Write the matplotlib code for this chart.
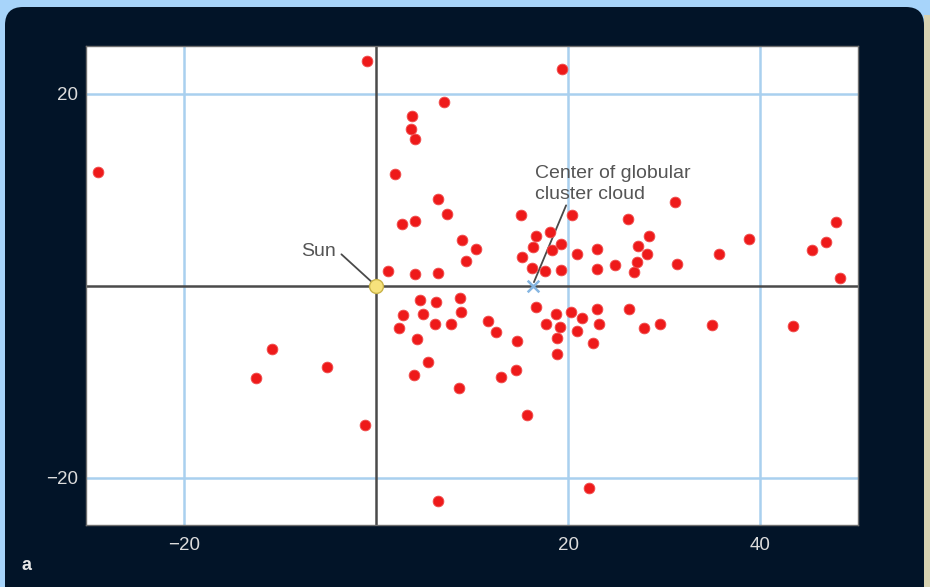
import matplotlib.pyplot as plt
from matplotlib.patches import FancyBboxPatch, Rectangle
from matplotlib.transforms import IdentityTransform

plt.rcParams['font.family'] = ['Liberation Sans', 'DejaVu Sans']

# globular cluster positions in the plane (kpc), Sun at the origin
cluster_x = [-28.9, -12.5, -10.8, -5.1, -1.1, -0.9, 1.3, 2.0, 2.7, 3.6,
             3.75, 4.1, 4.1, 4.1, 6.5, 6.5, 7.05, 7.4, 9.0, 9.4,
             10.4, 15.1, 15.2, 16.3, 16.4, 16.7, 17.6, 18.1, 18.3, 19.3,
             19.3, 19.4, 20.4, 20.9, 23.0, 23.0, 24.9, 26.25, 26.9, 27.2,
             27.3, 28.2, 28.4, 31.1, 31.3, 35.7, 38.85, 45.4, 46.9, 47.9,
             48.3, 4.6, 6.3, 8.7, 8.85, 2.8, 4.9, 2.4, 6.15, 7.8,
             4.3, 5.45, 4.0, 8.6, 11.7, 12.5, 14.7, 13.0, 14.6, 15.7,
             16.7, 18.7, 20.3, 21.5, 23.05, 17.7, 19.2, 20.9, 23.25, 18.85,
             22.6, 18.85, 26.3, 27.9, 29.55, 35.0, 43.4, 6.5, 22.2]
cluster_y = [11.9, -9.6, -6.6, -8.4, -14.5, 23.4, 1.6, 11.7, 6.5, 16.4,
             17.7, 15.3, 6.8, 1.25, 9.1, 1.35, 19.2, 7.5, 4.8, 2.6,
             3.9, 7.4, 3.0, 1.9, 4.1, 5.2, 1.6, 5.6, 3.75, 4.4,
             1.7, 22.6, 7.4, 3.3, 3.9, 1.75, 2.15, 7.0, 1.45, 2.5,
             4.2, 3.3, 5.2, 8.7, 2.3, 3.3, 4.9, 3.7, 4.55, 6.7,
             0.85, -1.5, -1.7, -1.3, -2.7, -3.05, -2.9, -4.35, -4.0, -3.95,
             -5.55, -7.95, -9.3, -10.65, -3.7, -4.8, -5.7, -9.5, -8.8, -13.4,
             -2.2, -2.95, -2.75, -3.35, -2.4, -4.0, -4.25, -4.7, -3.95, -5.45,
             -5.9, -7.1, -2.4, -4.4, -4.0, -4.1, -4.2, -22.4, -21.0]

sun_x, sun_y = 0.0, 0.0
center_x, center_y = 16.4, 0.0

x_ticks = [-20, 20, 40]
y_ticks = [-20, 20]

fig = plt.figure(figsize=(9.3, 5.87), dpi=100)
fig.patch.set_facecolor('#a7d4fa')

# dark rounded panel behind the plot (pixel coordinates)
panel = FancyBboxPatch((5, -40), 919, 620, boxstyle='round,pad=0,rounding_size=18',
                       transform=IdentityTransform(), facecolor='#021428',
                       edgecolor='none', zorder=-5)
fig.patches.append(panel)
fig.patches.append(Rectangle((924, 0), 6, 572, transform=IdentityTransform(),
                             facecolor='#d8d3b2', edgecolor='none', zorder=-5))

ax = fig.add_axes([86 / 930, 1 - 525 / 587, 772 / 930, 479 / 587])
ax.set_zorder(1)
ax.set_facecolor('white')
ax.set_xlim(-30.2, 50.2)
ax.set_ylim(-24.9, 25.0)

ax.set_xticks(x_ticks)
ax.set_yticks(y_ticks)
ax.set_xticklabels([str(t).replace('-', '\u2212') for t in x_ticks])
ax.set_yticklabels([str(t).replace('-', '\u2212') for t in y_ticks])
ax.tick_params(length=0, labelsize=13.5, labelcolor='#dcdcdc')
ax.tick_params(axis='y', pad=6)
ax.tick_params(axis='x', pad=9)
ax.grid(True, color='#a9d0ef', linewidth=1.8, zorder=1)
ax.set_axisbelow(True)
for s in ax.spines.values():
    s.set_color('#6e6e6e')
    s.set_linewidth(1.0)

# crosshair through the Sun
ax.axhline(sun_y, color='#4a4a4a', linewidth=1.8, zorder=2)
ax.axvline(sun_x, color='#4a4a4a', linewidth=1.8, zorder=2)

ax.scatter(cluster_x, cluster_y, s=60, color='#ee1a1a', edgecolors='#f05050',
           linewidths=0.6, zorder=4)

ax.scatter([sun_x], [sun_y], s=100, color='#f6e27c', edgecolors='#c9b34a',
           linewidths=1.0, zorder=5)
ax.scatter([center_x], [center_y], marker='x', s=70, color='#86b6e2',
           linewidths=1.8, zorder=5)

# labels with leader lines
ax.text(-4.2, 3.6, 'Sun', ha='right', va='center', fontsize=14, color='#555555')
ax.annotate('', xy=(sun_x - 0.2, sun_y + 0.2), xytext=(-3.6, 3.3),
            arrowprops=dict(arrowstyle='-', color='#4a4a4a', lw=1.3,
                            shrinkA=0, shrinkB=0), zorder=3)
ax.text(16.55, 10.6, 'Center of globular\ncluster cloud', ha='left', va='center',
        fontsize=14, color='#555555', linespacing=1.3)
ax.annotate('', xy=(center_x + 0.05, center_y + 0.4), xytext=(19.8, 8.4),
            arrowprops=dict(arrowstyle='-', color='#4a4a4a', lw=1.3,
                            shrinkA=0, shrinkB=0), zorder=3)

fig.text(26 / 930, 1 - 565 / 587, 'a', ha='center', va='center', fontsize=13,
         fontweight='bold', color='#e6e6e6')

fig.savefig('out.png', dpi=100, facecolor=fig.get_facecolor())
